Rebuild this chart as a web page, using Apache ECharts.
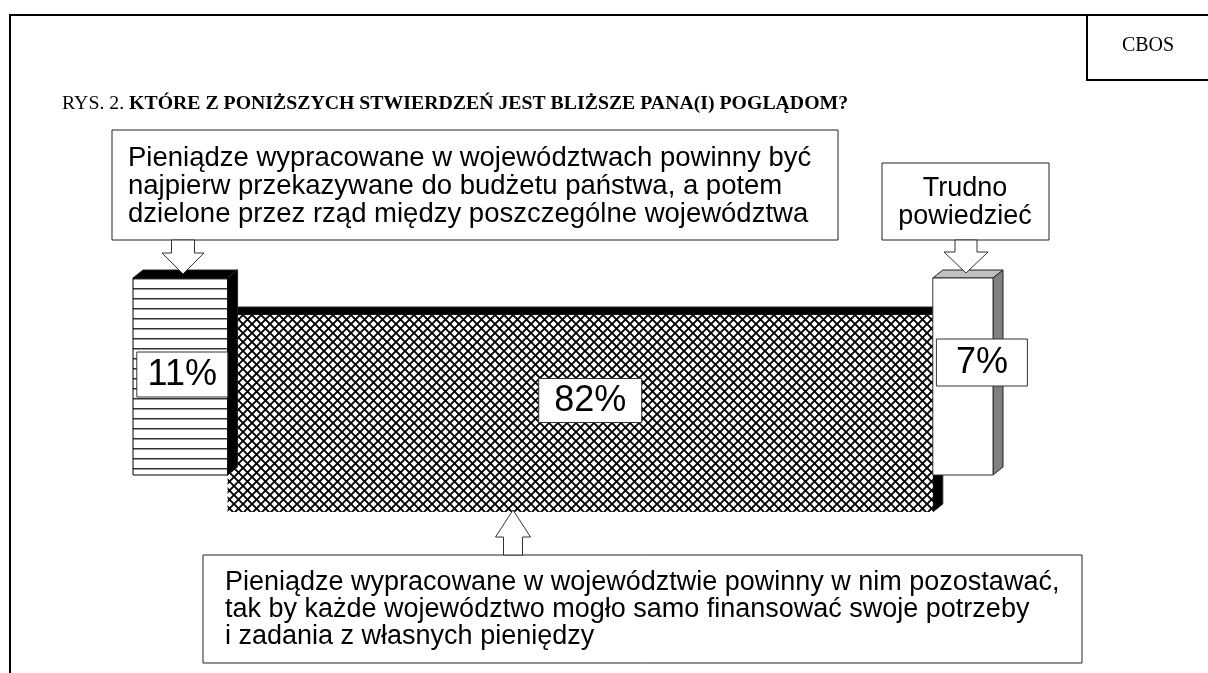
<!DOCTYPE html>
<html><head><meta charset="utf-8">
<script src="https://cdn.jsdelivr.net/npm/echarts@6/dist/echarts.min.js"></script>
<style>html,body{margin:0;padding:0;background:#fff}#c{width:1208px;height:673px}</style>
</head><body><div id="c"></div>
<script>
// ---- data ----
const categories = [
  'Pieniądze wypracowane w województwach powinny być\nnajpierw przekazywane do budżetu państwa, a potem\ndzielone przez rząd między poszczególne województwa',
  'Pieniądze wypracowane w województwie powinny w nim pozostawać,\ntak by każde województwo mogło samo finansować swoje potrzeby\ni zadania z własnych pieniędzy',
  'Trudno\npowiedzieć'
];
const values = [11, 82, 7];
const valueLabels = ['11%', '82%', '7%'];
const titlePrefix = 'RYS. 2. ';
const titleText = 'KTÓRE Z PONIŻSZYCH STWIERDZEŃ JEST BLIŻSZE PANA(I) POGLĄDOM?';
const sourceText = 'CBOS';

// ---- styling helpers ----
function makeStripes() {
  const c = document.createElement('canvas'); c.width = 10; c.height = 10;
  const g = c.getContext('2d');
  g.fillStyle = '#fff'; g.fillRect(0, 0, 10, 10);
  g.fillStyle = '#333'; g.fillRect(0, 8, 10, 1.5);
  return c;
}
function makeHatch() {
  const n = 9;
  const c = document.createElement('canvas'); c.width = n; c.height = n;
  const g = c.getContext('2d');
  g.fillStyle = '#fff'; g.fillRect(0, 0, n, n);
  g.strokeStyle = '#000'; g.lineWidth = 1.9;
  g.beginPath();
  g.moveTo(-1, -1); g.lineTo(n + 1, n + 1);
  g.moveTo(n + 1, -1); g.lineTo(-1, n + 1);
  g.stroke();
  return c;
}
const STRIPES = makeStripes();
const HATCH = makeHatch();
const DEPTH_X = 10, DEPTH_Y = 8;
const SEG_STYLE = [
  { face: { image: STRIPES, repeat: 'repeat' }, top: '#000', side: '#000', stroke: '#000', shift: 0, z: 10,
    lab: { dx: 2, dy: -2, w: 91, h: 45 } },
  { face: { image: HATCH, repeat: 'repeat' }, top: '#000', side: '#000', stroke: null, shift: 37, z: 1,
    lab: { dx: 10, dy: -13, w: 103, h: 44 } },
  { face: '#fff', top: '#c0c0c0', side: '#808080', stroke: '#333', shift: 0, z: 10,
    lab: { dx: 19, dy: -14, w: 91, h: 47 } }
];

// segment starts/ends from values
const segData = [];
let acc = 0;
values.forEach((v, i) => { segData.push([acc, acc + v, i]); acc += v; });

function renderItem(params, api) {
  const s = api.value(0), e = api.value(1), i = api.value(2);
  const st = SEG_STYLE[i];
  const a = api.coord([s, 1]), b = api.coord([e, 0]);
  const x0 = a[0], x1 = b[0], y0 = a[1] + st.shift, y1 = b[1] + st.shift;
  const cx = (x0 + x1) / 2 + st.lab.dx, cy = (y0 + y1) / 2 + st.lab.dy;
  return {
    type: 'group',
    children: [
      { type: 'polygon', z2: st.z, shape: { points: [[x0, y0], [x0 + DEPTH_X, y0 - DEPTH_Y], [x1 + DEPTH_X, y0 - DEPTH_Y], [x1, y0]] },
        style: { fill: st.top, stroke: '#222', lineWidth: 1 } },
      { type: 'polygon', z2: st.z, shape: { points: [[x1, y0], [x1 + DEPTH_X, y0 - DEPTH_Y], [x1 + DEPTH_X, y1 - DEPTH_Y], [x1, y1]] },
        style: { fill: st.side, stroke: '#222', lineWidth: 1 } },
      { type: 'rect', z2: st.z, shape: { x: x0, y: y0, width: x1 - x0, height: y1 - y0 },
        style: { fill: st.face, stroke: st.stroke, lineWidth: 1 } },
      { type: 'rect', z2: st.z + 2, shape: { x: cx - st.lab.w / 2, y: cy - st.lab.h / 2, width: st.lab.w, height: st.lab.h },
        style: { fill: '#fff', stroke: '#333', lineWidth: 1 } },
      { type: 'text', z2: st.z + 3, style: { text: valueLabels[i], x: cx, y: cy + 1, align: 'center', verticalAlign: 'middle',
        font: '36px "Liberation Sans", Arial, sans-serif', fill: '#000' } }
    ]
  };
}

function arrow(x, y0, dir, shaftW, headW, shaftLen, headLen) {
  // dir: 1 = pointing down, -1 = pointing up; y0 = base of shaft
  const hs = shaftW / 2, hh = headW / 2;
  const yh = y0 + dir * shaftLen, yt = yh + dir * headLen;
  return { type: 'polygon', z: 20, shape: { points: [[x - hs, y0], [x - hs, yh], [x - hh, yh], [x, yt], [x + hh, yh], [x + hs, yh], [x + hs, y0]] },
    style: { fill: '#fff', stroke: '#333', lineWidth: 1 } };
}
function box(x, y, w, h) {
  return { type: 'rect', z: 20, shape: { x: x, y: y, width: w, height: h }, style: { fill: '#fff', stroke: '#222', lineWidth: 1 } };
}
const SANS = '"Liberation Sans", Arial, sans-serif';
const SERIF = '"Liberation Serif", "Times New Roman", serif';

const chart = echarts.init(document.getElementById('c'), null, { renderer: 'canvas' });
chart.setOption({
  animation: false,
  backgroundColor: '#fff',
  grid: { left: 133, right: 215, top: 278, bottom: 198 },
  xAxis: { type: 'value', min: 0, max: 100, show: false },
  yAxis: { type: 'value', min: 0, max: 1, show: false },
  series: [{ type: 'custom', renderItem: renderItem, data: segData, clip: false, silent: true }],
  graphic: [
    // frame
    { type: 'line', shape: { x1: 10, y1: 15, x2: 1208, y2: 15 }, style: { stroke: '#000', lineWidth: 2 } },
    { type: 'line', shape: { x1: 10, y1: 14, x2: 10, y2: 673 }, style: { stroke: '#000', lineWidth: 2 } },
    { type: 'line', shape: { x1: 1087, y1: 15, x2: 1087, y2: 81 }, style: { stroke: '#000', lineWidth: 2 } },
    { type: 'line', shape: { x1: 1086, y1: 80, x2: 1208, y2: 80 }, style: { stroke: '#000', lineWidth: 2 } },
    { type: 'text', style: { text: sourceText, x: 1148, y: 46, align: 'center', verticalAlign: 'middle', font: '20px ' + SERIF, fill: '#000' } },
    // title
    { type: 'text', style: { x: 62, y: 104, verticalAlign: 'middle', text: '{n|' + titlePrefix + '}{b|' + titleText + '}',
      rich: { n: { font: '19.8px ' + SERIF, fill: '#000' }, b: { font: 'bold 19.8px ' + SERIF, fill: '#000' } } } },
    // callout 1
    box(112, 130, 726, 110),
    { type: 'text', z: 21, style: { text: categories[0], x: 128, y: 186, verticalAlign: 'middle', lineHeight: 28, font: '27.5px ' + SANS, fill: '#000' } },
    arrow(183, 240, 1, 23, 42, 13, 21),
    // callout 3 (Trudno)
    box(882, 163, 167, 77),
    { type: 'text', z: 21, style: { text: categories[2], x: 965, y: 203, align: 'center', verticalAlign: 'middle', lineHeight: 28, font: '27px ' + SANS, fill: '#000' } },
    arrow(966, 240, 1, 22, 44, 12, 21),
    // callout 2 (bottom)
    box(203, 555, 879, 108),
    { type: 'text', z: 21, style: { text: categories[1], x: 225, y: 610, verticalAlign: 'middle', lineHeight: 27, font: '27px ' + SANS, fill: '#000' } },
    arrow(513, 555, -1, 19, 35, 18, 27)
  ]
});
</script>
</body></html>
